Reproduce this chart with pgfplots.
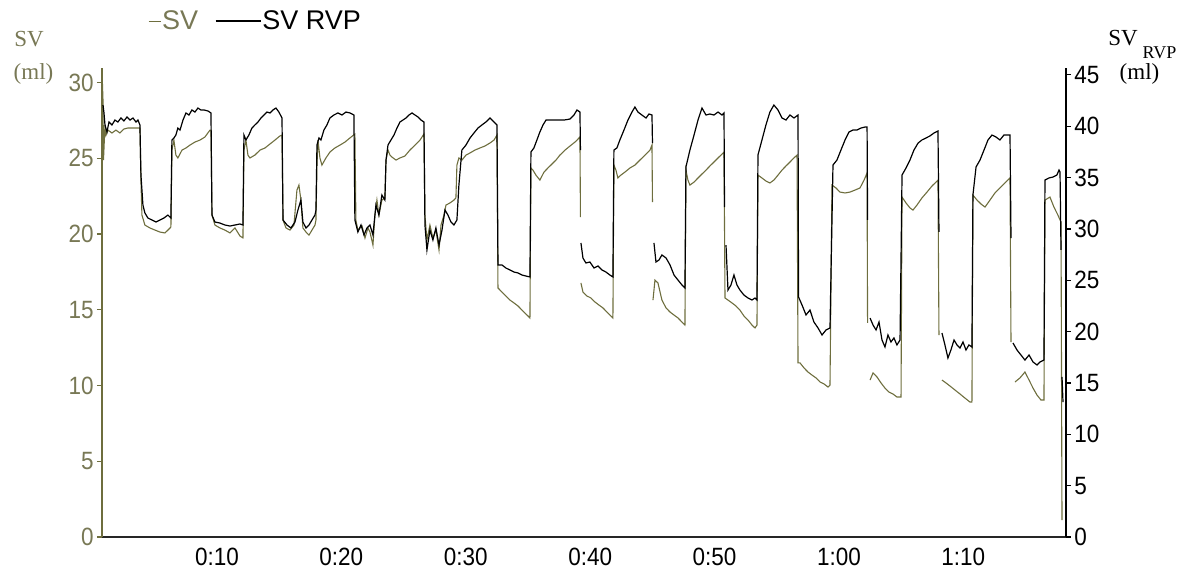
\documentclass[border=0pt]{standalone}
\usepackage{pgfplots}
\pgfplotsset{compat=1.18}
\usepackage{fontspec}
\setmainfont{Liberation Sans}
\newfontfamily\tickfont[FakeStretch=0.9]{Liberation Sans}
\newfontfamily\labfont{Liberation Serif}
\definecolor{svline}{RGB}{110,110,62}
\definecolor{svtext}{RGB}{120,120,85}
\newcommand{\tickfs}{\tickfont\fontsize{12.5}{14}\selectfont}
\begin{document}
\begin{tikzpicture}
\useasboundingbox (-51pt,-17.5pt) rectangle (544.5pt,268.5pt);
\begin{axis}[
  at={(0pt,0pt)}, anchor=south west,
  scale only axis, width=482pt, height=234.5pt,
  xmin=0.76, xmax=78.25, ymin=0, ymax=30.96,
  axis x line*=bottom, axis y line*=left,
  x axis line style={draw=black!85, line width=1pt},
  y axis line style={draw=svline, line width=0.8pt},
  xtick={10,20,30,40,50,60,70},
  xticklabels={0:10,0:20,0:30,0:40,0:50,1:00,1:10},
  xtick style={draw=none},
  ytick={0,5,10,15,20,25,30},
  ytick style={draw=svline, line width=0.6pt},
  tick align=outside, major tick length=2.5pt,
  /pgf/number format/assume math mode=true,
  tick label style={font=\tickfs},
  yticklabel style={text=svtext, inner sep=1.5pt},
  xticklabel style={text=black, inner sep=3pt},
  unbounded coords=jump,
  legend style={at={(0.0477,1.1)}, anchor=west, draw=none, fill=none,
    inner sep=0pt, outer sep=0pt, nodes={inner sep=0.5pt},
    font=\fontsize{13.5}{15}\selectfont, legend columns=2,
    /tikz/every even column/.append style={column sep=8pt}},
  legend cell align=left,
]
\addplot[svline, line width=0.55pt, legend image code/.code={\draw[svline, line width=0.55pt] (0pt,0pt) -- (6pt,0pt);}] coordinates {
(0.76,30.8) (0.84,28.84) (0.88,24.88) (1.00,27.19) (1.08,26.53) (1.24,26.86) (1.56,26.67) (1.88,26.86) (2.20,26.67) (2.52,26.93) (2.85,27.00) (3.17,27.00) (3.49,27.00) (3.81,27.00)
(3.89,23.56) (3.97,21.25) (4.21,20.59) (4.61,20.40) (5.02,20.26) (5.42,20.13) (5.82,20.07) (6.06,20.26) (6.30,20.46)
(6.38,25.54) (6.54,26.20) (6.70,25.21) (6.86,25.02) (7.19,25.54) (7.51,25.68) (7.83,25.87) (8.23,26.07) (8.63,26.20) (9.03,26.40) (9.44,26.86) (9.52,26.86)
(9.60,21.25) (9.84,20.59) (10.24,20.40) (10.64,20.26) (11.05,20.07) (11.45,20.40) (11.85,19.87) (12.09,19.74)
(12.17,25.54) (12.33,26.20) (12.49,25.21) (12.65,25.02) (13.05,25.21) (13.46,25.54) (13.86,25.68) (14.26,25.94) (14.66,26.20) (15.06,26.47) (15.23,26.53)
(15.31,20.92) (15.55,20.40) (15.87,20.26) (16.19,20.59) (16.43,22.90) (16.59,23.23) (16.75,22.24) (16.91,20.40) (17.16,20.13) (17.40,19.93) (17.64,20.26) (17.88,20.59) (17.96,20.92)
(18.04,24.55) (18.12,26.20) (18.28,25.02) (18.44,24.55) (18.76,25.02) (19.08,25.41) (19.48,25.68) (19.89,25.87) (20.29,26.07) (20.69,26.34) (21.09,26.60)
(21.17,20.92) (21.33,20.26) (21.66,20.53) (21.90,19.74) (22.14,20.40) (22.30,20.13) (22.54,19.27) (22.70,21.25) (22.86,22.24) (23.02,21.25) (23.26,22.24) (23.50,22.38)
(23.59,24.88) (23.75,25.54) (23.91,25.21) (24.07,25.08) (24.39,24.88) (24.71,25.02) (25.11,25.15) (25.51,25.54) (25.92,25.87) (26.32,26.20) (26.64,26.60)
(26.72,21.25) (26.88,19.60) (27.12,20.59) (27.36,19.74) (27.60,20.26) (27.85,18.94) (28.01,20.59) (28.25,21.25) (28.41,21.91) (28.73,22.05) (29.05,22.24) (29.21,22.38)
(29.29,24.55) (29.45,25.02) (29.69,24.88) (30.02,25.21) (30.34,25.35) (30.74,25.54) (31.14,25.68) (31.54,25.81) (31.95,26.01) (32.27,26.20) (32.51,26.53)
(32.59,16.44) (32.91,16.17) (33.23,15.91) (33.55,15.64) (33.88,15.45) (34.20,15.25) (34.52,14.98) (34.84,14.72) (35.16,14.46)
(35.24,24.36) (35.40,24.22) (35.64,23.89) (35.96,23.56) (36.29,24.09) (36.61,24.36) (36.93,24.62) (37.25,24.88) (37.57,25.21) (37.98,25.54) (38.38,25.81) (38.78,26.07) (39.18,26.40) (39.22,21.12) (39.24,nan)
(39.26,16.77) (39.42,16.17) (39.74,15.91) (40.06,15.78) (40.39,15.51) (40.71,15.31) (41.03,15.12) (41.35,14.85) (41.67,14.59) (41.83,14.46)
(41.91,24.55) (42.07,24.22) (42.23,23.70) (42.47,23.89) (42.80,24.09) (43.20,24.36) (43.60,24.55) (44.00,24.88) (44.41,25.21) (44.81,25.54) (44.97,25.87) (45.01,22.11) (45.03,nan)
(45.05,15.64) (45.21,16.96) (45.45,16.77) (45.77,15.64) (46.10,15.12) (46.42,14.85) (46.74,14.65) (47.06,14.46) (47.38,14.19) (47.62,13.99)
(47.70,24.22) (47.86,23.56) (48.02,23.23) (48.35,23.43) (48.67,23.70) (48.99,23.96) (49.31,24.22) (49.63,24.49) (49.95,24.75) (50.28,25.02) (50.60,25.28) (50.76,25.41)
(50.84,15.78) (51.08,15.64) (51.40,15.45) (51.72,15.25) (52.04,14.98) (52.36,14.59) (52.69,14.32) (53.01,13.99) (53.25,13.80) (53.41,13.99)
(53.49,23.89) (53.81,23.70) (54.13,23.50) (54.45,23.37) (54.77,23.56) (55.10,23.89) (55.42,24.22) (55.74,24.49) (56.06,24.75) (56.38,25.02) (56.63,25.21)
(56.71,11.49) (56.87,11.49) (57.19,11.16) (57.51,10.89) (57.83,10.69) (58.16,10.50) (58.48,10.23) (58.80,10.10) (59.12,9.90) (59.28,10.03)
(59.44,23.23) (59.76,23.04) (60.08,22.77) (60.49,22.71) (60.89,22.77) (61.29,22.90) (61.69,23.04) (62.02,23.56) (62.26,24.03) (62.30,14.13) (62.40,nan)
(62.50,10.36) (62.74,10.83) (63.06,10.56) (63.38,10.17) (63.70,9.83) (64.02,9.57) (64.34,9.44) (64.66,9.24) (64.99,9.24)
(65.07,22.44) (65.39,22.05) (65.71,21.72) (65.95,21.58) (66.27,21.91) (66.67,22.38) (67.08,22.77) (67.48,23.17) (67.96,23.56) (68.04,13.33) (68.10,nan)
(68.28,10.36) (68.60,10.17) (68.92,9.97) (69.33,9.70) (69.73,9.44) (70.13,9.17) (70.53,8.91) (70.69,8.91)
(70.77,22.57) (71.10,22.24) (71.42,21.98) (71.74,21.78) (72.14,22.24) (72.54,22.71) (72.94,23.04) (73.34,23.37) (73.75,23.70) (73.83,12.87) (73.90,nan)
(74.15,10.23) (74.55,10.50) (74.95,10.89) (75.28,10.36) (75.60,9.83) (75.92,9.37) (76.24,9.04) (76.48,9.04)
(76.56,22.24) (76.96,22.44) (77.28,21.78) (77.60,21.25) (77.85,20.79) (77.93,1.12)
};
\addlegendentry{\textcolor{svtext}{SV}}
\addlegendimage{legend image code/.code={\draw[black, line width=0.6pt] (0pt,0pt) -- (22.5pt,0pt);}}
\addlegendentry{SV RVP}
\end{axis}
\begin{axis}[
  at={(0pt,0pt)}, anchor=south west,
  scale only axis, width=482pt, height=234.5pt,
  xmin=0.76, xmax=78.25, ymin=0, ymax=45.67,
  axis y line*=right, axis x line=none,
  y axis line style={draw=black, line width=0.8pt},
  ytick={0,5,10,15,20,25,30,35,40,45},
  ytick style={draw=black, line width=0.6pt},
  tick align=outside, major tick length=2.5pt,
  /pgf/number format/assume math mode=true,
  tick label style={font=\tickfs},
  yticklabel style={text=black, inner sep=1.5pt},
  unbounded coords=jump,
]
\addplot[black, line width=0.6pt] coordinates {
(0.84,42.06) (0.92,41.29) (1.00,40.12) (1.16,39.44) (1.32,40.41) (1.56,40.12) (1.80,40.60) (2.04,40.41) (2.28,40.80) (2.52,40.51) (2.77,40.90) (3.01,40.60) (3.25,40.80) (3.49,40.41) (3.65,40.60) (3.81,40.12)
(3.89,35.25) (4.05,32.33) (4.21,31.55) (4.45,31.06) (4.77,30.87) (5.10,30.67) (5.42,30.87) (5.74,31.06) (6.06,31.35) (6.30,31.06)
(6.38,38.66) (6.54,38.85) (6.70,39.14) (6.86,39.82) (7.03,39.63) (7.27,40.60) (7.51,41.29) (7.75,41.09) (7.99,41.58) (8.23,41.38) (8.47,41.77) (8.71,41.58) (8.96,41.58) (9.28,41.48) (9.52,41.29)
(9.60,31.35) (9.84,30.67) (10.24,30.57) (10.64,30.38) (11.05,30.28) (11.45,30.38) (11.85,30.48) (12.09,30.38)
(12.17,39.14) (12.33,38.66) (12.57,39.14) (12.81,39.82) (13.05,40.12) (13.30,40.41) (13.54,40.80) (13.78,41.09) (14.02,41.38) (14.26,41.29) (14.50,41.58) (14.74,41.77) (14.98,41.38) (15.23,40.80)
(15.31,30.87) (15.63,30.38) (15.95,30.09) (16.27,30.67) (16.51,31.84) (16.75,32.81) (16.91,30.67) (17.16,30.09) (17.40,30.38) (17.64,30.87) (17.88,31.35) (17.96,31.84)
(18.04,38.17) (18.20,38.85) (18.36,38.66) (18.60,39.63) (18.84,40.12) (19.08,40.80) (19.40,41.09) (19.72,41.29) (20.05,41.09) (20.37,41.38) (20.69,41.29) (21.01,41.09)
(21.09,30.87) (21.33,29.70) (21.58,30.38) (21.82,29.41) (22.06,30.09) (22.30,30.38) (22.54,29.41) (22.78,32.33) (23.02,31.35) (23.26,33.30) (23.50,32.81)
(23.59,36.71) (23.75,38.17) (23.99,38.66) (24.23,39.14) (24.47,39.82) (24.71,40.41) (24.95,40.60) (25.20,40.80) (25.44,41.09) (25.68,41.29) (25.92,41.09) (26.16,40.90) (26.40,40.60) (26.64,40.41)
(26.72,30.38) (26.88,27.95) (27.12,29.89) (27.36,28.92) (27.60,30.09) (27.85,28.43) (28.09,29.89) (28.33,31.84) (28.57,31.35) (28.81,30.67) (29.05,30.38) (29.29,30.87)
(29.45,34.27) (29.69,37.68) (30.02,38.17) (30.34,38.85) (30.66,39.34) (30.98,39.82) (31.30,40.12) (31.62,40.41) (31.95,40.80) (32.27,40.41) (32.51,40.12)
(32.59,26.49) (32.91,26.49) (33.23,26.19) (33.55,26.00) (33.88,25.80) (34.20,25.71) (34.52,25.51) (34.84,25.41) (35.16,25.32)
(35.24,37.49) (35.48,37.88) (35.72,38.66) (35.96,39.44) (36.21,40.12) (36.45,40.60) (36.93,40.60) (37.41,40.60) (37.89,40.60) (38.38,40.70) (38.70,41.09) (38.94,41.58) (39.18,41.38) (39.22,37.68) (39.24,nan)
(39.26,28.63) (39.42,27.17) (39.66,26.68) (39.98,26.78) (40.31,26.19) (40.63,26.39) (40.95,26.00) (41.27,25.80) (41.59,25.51) (41.83,25.32)
(41.91,37.68) (42.15,37.88) (42.39,38.66) (42.72,39.63) (43.04,40.60) (43.36,41.38) (43.60,41.87) (43.84,41.38) (44.16,41.09) (44.49,40.80) (44.73,41.19) (44.97,41.09) (45.01,38.36) (45.07,nan)
(45.13,28.63) (45.29,26.78) (45.53,26.97) (45.77,27.46) (46.10,27.17) (46.42,26.49) (46.74,25.51) (47.06,25.02) (47.38,24.54) (47.62,24.25)
(47.70,36.03) (48.02,37.68) (48.35,39.14) (48.67,40.60) (48.99,41.77) (49.31,41.09) (49.63,41.19) (49.95,41.09) (50.28,41.38) (50.60,41.09) (50.76,41.29) (50.80,32.13) (50.86,nan)
(50.92,28.43) (51.08,24.05) (51.32,24.54) (51.56,25.51) (51.80,24.54) (52.04,24.05) (52.36,23.56) (52.69,23.27) (53.01,23.08) (53.25,23.27) (53.41,23.08)
(53.49,37.20) (53.81,38.66) (54.13,40.12) (54.45,41.38) (54.77,42.06) (55.10,41.58) (55.42,40.80) (55.74,40.60) (56.06,41.09) (56.38,40.80) (56.71,41.09)
(56.75,23.37) (57.03,22.59) (57.35,21.62) (57.67,22.10) (57.99,20.93) (58.32,20.35) (58.64,19.67) (58.96,20.16) (59.28,20.35)
(59.52,36.22) (59.84,36.71) (60.16,37.68) (60.49,38.66) (60.81,39.44) (61.13,39.63) (61.45,39.63) (61.77,39.82) (62.10,39.92) (62.26,39.92) (62.30,30.87) (62.40,nan)
(62.50,21.32) (62.74,20.64) (62.98,20.16) (63.22,20.93) (63.46,19.18) (63.70,18.50) (63.94,19.67) (64.18,18.99) (64.42,19.38) (64.66,18.70) (64.91,19.18)
(65.07,35.25) (65.39,35.93) (65.71,36.71) (66.03,37.68) (66.36,38.36) (66.67,38.66) (66.99,38.85) (67.31,39.05) (67.64,39.34) (67.96,39.53) (68.04,29.70) (68.10,nan)
(68.28,19.86) (68.52,18.70) (68.76,17.43) (69.00,18.21) (69.25,19.18) (69.49,18.70) (69.73,18.40) (69.97,18.99) (70.21,18.21) (70.45,18.70) (70.69,18.50)
(70.77,33.30) (71.02,36.03) (71.34,36.71) (71.66,37.68) (71.98,38.66) (72.30,39.14) (72.62,38.95) (72.94,38.66) (73.26,39.14) (73.59,39.14) (73.75,39.14) (73.83,29.11) (73.90,nan)
(73.99,18.89) (74.31,18.21) (74.63,17.72) (74.95,17.23) (75.28,17.72) (75.60,17.04) (75.92,16.75) (76.16,17.04) (76.48,17.23)
(76.56,34.76) (76.88,34.96) (77.20,35.05) (77.52,35.25) (77.69,35.74) (77.77,35.54) (77.85,27.95) (77.89,nan) (77.93,15.58) (78.01,13.14)
};
\end{axis}
\node[svtext, font=\labfont\fontsize{11.5}{13}\selectfont, inner sep=0pt] at (-36.5pt,249pt) {SV};
\node[svtext, font=\labfont\fontsize{11.5}{13}\selectfont, inner sep=0pt] at (-34.25pt,231.5pt) {(ml)};
\node[black, font=\labfont\fontsize{11.5}{13}\selectfont, inner sep=0pt] at (510.5pt,249.25pt) {SV};
\node[black, font=\labfont\fontsize{9}{10}\selectfont, inner sep=0pt] at (528.75pt,242.25pt) {RVP};
\node[black, font=\labfont\fontsize{11.5}{13}\selectfont, inner sep=0pt] at (518.75pt,231.5pt) {(ml)};
\end{tikzpicture}
\end{document}
